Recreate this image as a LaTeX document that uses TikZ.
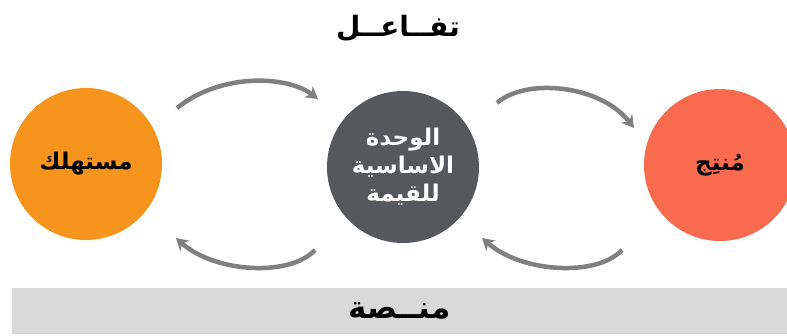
\documentclass[tikz,border=0pt]{standalone}
\usepackage{fontspec}
\usetikzlibrary{arrows.meta}
\TeXXeTstate=1
\newfontfamily\arabicbold[Script=Arabic]{DejaVu Sans Bold}
\definecolor{consumerorange}{HTML}{F7941D}
\definecolor{coredark}{HTML}{55585D}
\definecolor{producercoral}{HTML}{F96A4F}
\definecolor{bandgray}{HTML}{D9D9D9}
\definecolor{arrowgray}{HTML}{808080}
\tikzset{
  actor/.style={circle, minimum size=152pt, inner sep=0pt,
    font=\arabicbold\fontsize{23}{28}\selectfont, align=center},
  flow/.style={draw=arrowgray, line width=4.5pt, -{Stealth[length=12pt,width=14pt]}},
}
\begin{document}
\begin{tikzpicture}[x=1pt,y=-1pt]
\useasboundingbox (0,0) rectangle (787,336);
% band
\node[fill=bandgray, minimum width=775pt, minimum height=46pt, inner sep=0pt,
  font=\arabicbold\fontsize{31}{34}\selectfont] (band) at (399.5,311) {\beginR منــصة\endR};
% title
\node[font=\arabicbold\fontsize{28}{32}\selectfont] (title) at (398,28) {\beginR تفــاعــل\endR};
% circles
\node[actor, fill=consumerorange, text=black] (consumer) at (86,164) {\beginR مستهلك\endR};
\node[actor, fill=coredark, text=white] (core) at (403,167) {\beginR الوحدة\endR\\\beginR الاساسية\endR\\\beginR للقيمة\endR};
\node[actor, fill=producercoral, text=black] (producer) at (720,165) {\beginR مُنتِج\endR};
% arrow end points
\coordinate (a1s) at (177,108);
\coordinate (a1e) at (318,99);
\coordinate (a2s) at (497,103);
\coordinate (a2e) at (634,128);
\coordinate (a3s) at (315,250);
\coordinate (a3e) at (176,238);
\coordinate (a4s) at (622,250);
\coordinate (a4e) at (482,238);
\draw[flow] (a1s) .. controls (222,72) and (288,76) .. (a1e);
\draw[flow] (a2s) .. controls (525,78) and (600,84) .. (a2e);
\draw[flow] (a3s) .. controls (290,277) and (215,273) .. (a3e);
\draw[flow] (a4s) .. controls (597,277) and (522,273) .. (a4e);
\end{tikzpicture}
\end{document}
